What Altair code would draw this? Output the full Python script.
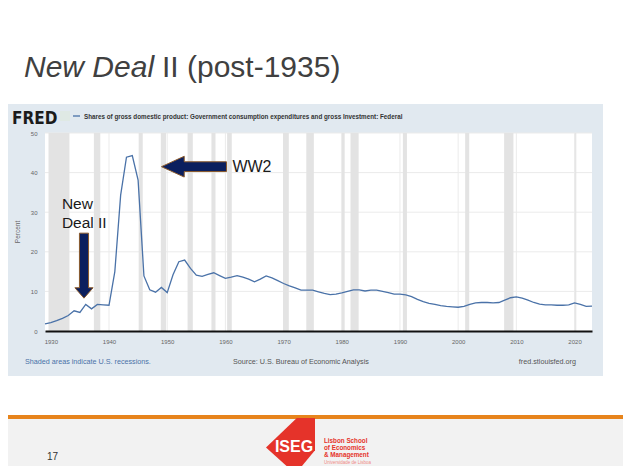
import altair as alt
import pandas as pd

# ---------------- data ----------------
years = list(range(1929, 2024))
federal_share = [
    1.8, 2.1, 2.6, 3.2, 3.9, 5.1, 4.7, 6.7, 5.6, 6.7,        # 1929-1938
    6.6, 6.5, 15.0, 34.3, 43.9, 44.3, 38.1, 13.9, 10.4, 9.8,  # 1939-1948
    11.0, 9.7, 14.2, 17.5, 17.9, 15.8, 14.1, 13.8, 14.3, 14.7,  # 1949-1958
    14.0, 13.3, 13.6, 14.0, 13.6, 13.1, 12.4, 13.1, 13.9, 13.4,  # 1959-1968
    12.7, 12.0, 11.4, 10.9, 10.3, 10.3, 10.3, 9.9, 9.5, 9.2,    # 1969-1978
    9.3, 9.6, 10.0, 10.4, 10.4, 10.1, 10.3, 10.3, 10.0, 9.7,    # 1979-1988
    9.3, 9.3, 9.1, 8.7, 8.0, 7.4, 7.0, 6.7, 6.4, 6.2,          # 1989-1998
    6.1, 6.0, 6.2, 6.7, 7.1, 7.2, 7.2, 7.1, 7.2, 7.8,          # 1999-2008
    8.4, 8.6, 8.3, 7.8, 7.2, 6.8, 6.6, 6.6, 6.5, 6.5,          # 2009-2018
    6.6, 7.1, 6.7, 6.2, 6.3,                                    # 2019-2023
]
rec_start = [1929.6, 1937.4, 1945.1, 1948.9, 1953.5, 1957.6, 1960.3, 1969.9,
             1973.9, 1980.0, 1981.5, 1990.5, 2001.2, 2007.9, 2020.1]
rec_end = [1933.2, 1938.5, 1945.8, 1949.8, 1954.4, 1958.3, 1961.1, 1970.9,
           1975.2, 1980.5, 1982.9, 1991.2, 2001.9, 2009.5, 2020.3]
x_ticks = [1930, 1940, 1950, 1960, 1970, 1980, 1990, 2000, 2010, 2020]
y_ticks = [0, 10, 20, 30, 40, 50]
y_grid = [10, 20, 30, 40, 50]

# ---------------- layout helpers ----------------
W, H = 547, 198          # plot area
X0, Y0 = 45, 133         # page position of plot origin
FONT = "Liberation Sans"


def px(x):
    return x - X0


def py(y):
    return y - Y0


xs = alt.Scale(domain=[1929, 2023], nice=False, zero=False)
ys = alt.Scale(domain=[0, 50], nice=False)
x_axis = alt.Axis(values=x_ticks, format="d", labelFontSize=6,
                  labelColor="#666", labelFont=FONT, ticks=False,
                  domainColor="#111", domainWidth=2, grid=False,
                  labelPadding=7, zindex=1, title=None)
y_axis = alt.Axis(values=y_ticks, labelFontSize=6, labelColor="#666",
                  labelFont=FONT, ticks=False, domain=False, grid=False,
                  labelPadding=8, zindex=1, title=None)


def X(field):
    return alt.X(field, scale=xs, axis=x_axis, title=None)


def Y(field):
    return alt.Y(field, scale=ys, axis=y_axis, title=None)


one = pd.DataFrame({"a": [0]})
series = pd.DataFrame({"year": years, "value": federal_share})
recs = pd.DataFrame({"start": rec_start, "end": rec_end})
gy = pd.DataFrame({"v": y_grid})
gx = pd.DataFrame({"v": x_ticks})


def rect(x1, x2, y1, y2, color):
    return alt.Chart(one).mark_rect(color=color).encode(
        x=alt.value(px(x1)), x2=alt.value(px(x2)),
        y=alt.value(py(y1)), y2=alt.value(py(y2)))


def text(t, x, y, size, color="#333", align="left", weight="normal",
         style="normal", baseline="alphabetic", angle=0, font=FONT):
    kw = dict(text=t, fontSize=size, color=color, align=align,
              fontWeight=weight, fontStyle=style, baseline=baseline, font=font)
    if angle:
        kw["angle"] = angle
    return alt.Chart(one).mark_text(**kw).encode(
        x=alt.value(px(x)), y=alt.value(py(y)))


# slide footer
footer_bg = rect(8, 623, 419, 466, "#f2f2f2")
orange = rect(8, 623, 415, 419, "#e7841c")

# FRED panel
panel = rect(8, 603, 104, 376, "#e1e9f0")
plot_bg = alt.Chart(one).mark_rect(color="white").encode(
    x=alt.value(0), x2=alt.value(W), y=alt.value(0), y2=alt.value(H))

hgrid = alt.Chart(gy).mark_rule(color="#ebebeb", strokeWidth=1).encode(
    y=Y("v:Q"), x=alt.value(0), x2=alt.value(W))
vgrid = alt.Chart(gx).mark_rule(color="#ebebeb", strokeWidth=1).encode(
    x=X("v:Q"), y=alt.value(0), y2=alt.value(H))
rec_rects = alt.Chart(recs).mark_rect(color="#e3e3e3").encode(
    x=X("start:Q"), x2="end:Q", y=alt.value(0), y2=alt.value(H))

line = alt.Chart(series).mark_line(color="#4a72a8", strokeWidth=1.3).encode(
    x=X("year:Q"), y=Y("value:Q"))

# header of FRED panel
fred_logo = text("FRED", 12, 124, 17, color="#1b1b1b", weight="bold",
                 font="DejaVu Sans Condensed")
icon = rect(60, 70, 111, 121, "#dfe9e4")
legend_line = alt.Chart(one).mark_rule(color="#4a72a8", strokeWidth=1.3).encode(
    x=alt.value(px(73)), x2=alt.value(px(80)), y=alt.value(py(116)))
legend_txt = text("Shares of gross domestic product: Government consumption "
                  "expenditures and gross Investment: Federal",
                  84, 118.5, 6.3, color="#333", weight="bold")
percent = text("Percent", 18, 232, 6.5, color="#666", align="center",
               baseline="middle", angle=270)

# panel footer
shaded = text("Shaded areas indicate U.S. recessions.", 25, 364, 7.2,
              color="#4a72a8")
source = text("Source: U.S. Bureau of Economic Analysis", 233, 364, 7.2,
              color="#555")
fredurl = text("fred.stlouisfed.org", 576, 364, 7.2, color="#555",
               align="right")

# slide title
title1 = text("New Deal", 24, 77, 30, color="#404040", style="italic")
title2 = text("II (post-1935)", 162, 77, 30, color="#404040")

# annotations (placed in data coordinates)
ann = pd.DataFrame({"x": [1954.6], "y": [41.5]})
ww2_arrow = alt.Chart(ann).mark_point(
    shape="M-1,0L-0.3,-0.32L-0.3,-0.15L1,-0.15L1,0.15L-0.3,0.15L-0.3,0.32Z",
    size=65 * 65, filled=True, fill="#0b1f5e", stroke="#8a5a2c",
    strokeWidth=1, opacity=1).encode(x=X("x:Q"), y=Y("y:Q"))
ww2_txt = alt.Chart(pd.DataFrame({"x": [1961.2], "y": [41.4], "t": ["WW2"]})
                    ).mark_text(fontSize=16, font=FONT, color="#1a1a1a",
                                align="left", baseline="middle").encode(
    x=X("x:Q"), y=Y("y:Q"), text="t:N")
nd_arrow = alt.Chart(pd.DataFrame({"x": [1935.7], "y": [16.5]})).mark_point(
    shape="M0,1L-0.28,0.68L-0.14,0.68L-0.14,-1L0.14,-1L0.14,0.68L0.28,0.68Z",
    size=65 * 65, filled=True, fill="#0b1f5e", stroke="#8a5a2c",
    strokeWidth=1, opacity=1).encode(x=X("x:Q"), y=Y("y:Q"))
nd_txt = alt.Chart(pd.DataFrame({"x": [1931.9, 1931.9], "y": [32.0, 27.2],
                                 "t": ["New", "Deal II"]})
                   ).mark_text(fontSize=15.5, font=FONT, color="#1a1a1a",
                               align="left", baseline="middle").encode(
    x=X("x:Q"), y=Y("y:Q"), text="t:N")

# slide footer contents
page_no = text("17", 47, 460, 10, color="#333")
logo_shape = alt.Chart(one).mark_point(
    shape="M-1,0.05L0.1,-1L0.75,-1L0.75,0.15L0.05,1Z", size=56 * 56,
    filled=True, fill="#e5332a", opacity=1).encode(
    x=alt.value(px(294)), y=alt.value(py(446)))
logo_txt = text("ISEG", 294, 452, 16, color="white", align="center",
                weight="bold")
l1 = text("Lisbon School", 324, 443, 6.3, color="#e5332a", weight="bold")
l2 = text("of Economics", 324, 450, 6.3, color="#e5332a", weight="bold")
l3 = text("& Management", 324, 457, 6.3, color="#e5332a", weight="bold")
l4 = text("Universidade de Lisboa", 324, 464, 4.5, color="#f08a86")

chart = alt.layer(
    footer_bg, orange, panel, plot_bg, hgrid, vgrid, rec_rects, line,
    fred_logo, icon, legend_line, legend_txt, percent, shaded, source,
    fredurl, title1, title2, ww2_arrow, ww2_txt, nd_arrow, nd_txt,
    page_no, logo_shape, logo_txt, l1, l2, l3, l4,
).properties(
    width=W, height=H,
    autosize=alt.AutoSizeParams(type="none"),
    padding={"left": 37, "top": 125, "right": 31, "bottom": 135},
).configure_view(stroke=None).configure(background="white")

chart.save("out.html", embed_options={"renderer": "svg", "actions": False})
